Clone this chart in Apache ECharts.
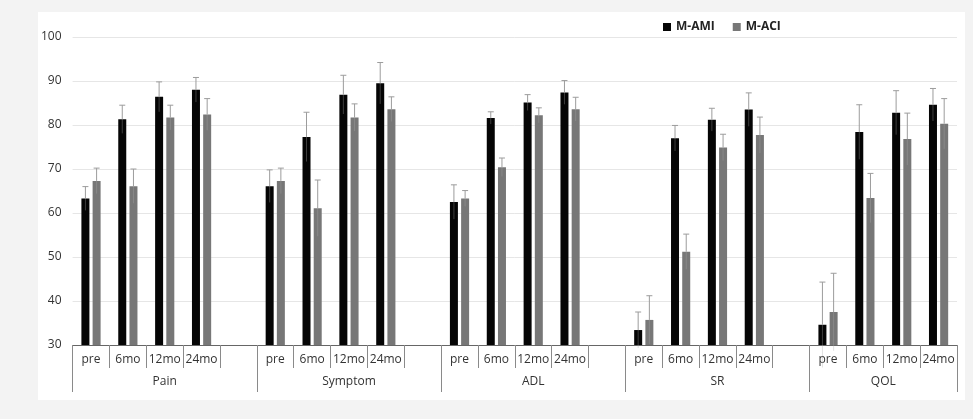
<!DOCTYPE html>
<html>
<head>
<meta charset="utf-8">
<script src="https://cdn.jsdelivr.net/npm/echarts@6/dist/echarts.min.js"></script>
<style>
  html, body { margin: 0; padding: 0; background: #f3f3f3; width: 973px; height: 419px; overflow: hidden; }
  #chart { position: absolute; left: 38px; top: 12px; width: 927px; height: 388px; background: #ffffff; }
</style>
</head>
<body>
<div id="chart"></div>
<script>
// ---- data ----
const timepoints = ['pre', '6mo', '12mo', '24mo'];
const groups = ['Pain', 'Symptom', 'ADL', 'SR', 'QOL'];
const seriesNames = ['M-AMI', 'M-ACI'];
const yTicks = [30, 40, 50, 60, 70, 80, 90, 100];

const amiMean = [63.3, 81.3, 86.4, 88.0,  66.1, 77.3, 86.9, 89.5,  62.5, 81.6, 85.1, 87.4,  33.4, 77.0, 81.2, 83.5,  34.6, 78.4, 82.8, 84.6];
const amiSD   = [ 2.7,  3.2,  3.4,  2.8,   3.7,  5.6,  4.4,  4.7,   3.9,  1.4,  1.8,  2.7,   4.1,  2.9,  2.6,  3.8,   9.7,  6.2,  5.0,  3.7];
const aciMean = [67.3, 66.1, 81.7, 82.4,  67.3, 61.1, 81.7, 83.6,  63.3, 70.4, 82.2, 83.6,  35.7, 51.2, 74.9, 77.7,  37.5, 63.4, 76.8, 80.3];
const aciSD   = [ 2.9,  3.9,  2.8,  3.6,   2.9,  6.4,  3.1,  2.8,   1.8,  2.1,  1.7,  2.7,   5.5,  4.0,  3.0,  4.1,   8.8,  5.6,  5.9,  5.7];

// ---- build slot layout: 4 timepoints + 1 blank slot per group (no blank after last) ----
const cats = [];
const amiBars = [], aciBars = [], amiErr = [], aciErr = [];
const groupBounds = [0];
groups.forEach((g, gi) => {
  timepoints.forEach((t, ti) => {
    const k = gi * 4 + ti;
    const idx = cats.length;
    cats.push(t);
    amiBars.push(amiMean[k]);
    aciBars.push(aciMean[k]);
    amiErr.push([idx, amiMean[k], amiSD[k]]);
    aciErr.push([idx, aciMean[k], aciSD[k]]);
  });
  if (gi < groups.length - 1) {
    cats.push('');
    amiBars.push('-');
    aciBars.push('-');
  }
  groupBounds.push(cats.length);
});
const groupCenters = groups.map((g, i) => (groupBounds[i] + groupBounds[i + 1]) / 2);

const BAR_W = 8, BAR_GAP = 3.2;
function errRenderer(offset) {
  return function (params, api) {
    const x = api.value(0), v = api.value(1), e = api.value(2);
    const base = api.coord([x, v]);
    const top = api.coord([x, v + e]);
    const low = api.coord([x, v - e]);
    const cx = base[0] + offset;
    return {
      type: 'group',
      children: [
        { type: 'line', shape: { x1: cx, y1: base[1], x2: cx, y2: low[1] }, style: { stroke: 'rgba(170,170,170,0.35)', lineWidth: 1 } },
        { type: 'line', shape: { x1: cx, y1: top[1], x2: cx, y2: base[1] }, style: { stroke: '#9c9c9c', lineWidth: 1 } },
        { type: 'line', shape: { x1: cx - 3, y1: top[1], x2: cx + 3, y2: top[1] }, style: { stroke: '#9c9c9c', lineWidth: 1 } }
      ]
    };
  };
}

const chart = echarts.init(document.getElementById('chart'), null, { renderer: 'canvas' });
const FONT = '"Open Sans", "Liberation Sans", sans-serif';
chart.setOption({
  animation: false,
  textStyle: { fontFamily: FONT },
  legend: {
    data: seriesNames,
    left: 620, top: 4,
    icon: 'rect', itemWidth: 8, itemHeight: 8, itemGap: 18,
    textStyle: { color: '#222', fontSize: 12, fontWeight: 'bold', fontFamily: FONT }
  },
  grid: { left: 33, right: 8, top: 25, bottom: 55 },
  xAxis: [
    {
      type: 'category', data: cats, position: 'bottom',
      axisLine: { show: true, lineStyle: { color: '#666', width: 1 } },
      axisTick: { show: true, interval: 0, length: 23, lineStyle: { color: '#8a8a8a' } },
      axisLabel: { interval: 0, margin: 9, color: '#333', fontSize: 12, fontFamily: FONT },
      splitLine: { show: false }
    },
    {
      type: 'value', min: 0, max: cats.length, position: 'bottom',
      axisLine: { show: false },
      axisTick: { show: true, customValues: groupBounds, length: 47, lineStyle: { color: '#8a8a8a' } },
      axisLabel: {
        show: true, customValues: groupCenters, margin: 31, color: '#333', fontSize: 12, fontFamily: FONT,
        formatter: function (v) {
          const i = groupCenters.findIndex(c => Math.abs(c - v) < 1e-6);
          return i >= 0 ? groups[i] : '';
        }
      },
      splitLine: { show: false }
    }
  ],
  yAxis: {
    type: 'value', min: yTicks[0], max: yTicks[yTicks.length - 1], interval: 10,
    axisLine: { show: false }, axisTick: { show: false },
    axisLabel: { color: '#333', fontSize: 12, margin: 11, fontFamily: FONT },
    splitLine: { lineStyle: { color: '#e6e6e6', width: 1 } }
  },
  series: [
    { name: seriesNames[0], type: 'bar', data: amiBars, barWidth: BAR_W, barGap: (BAR_GAP / BAR_W * 100) + '%', itemStyle: { color: '#050505' } },
    { name: seriesNames[1], type: 'bar', data: aciBars, barWidth: BAR_W, itemStyle: { color: '#777777' } },
    { type: 'custom', data: amiErr, encode: { x: 0, y: 1 }, renderItem: errRenderer(-(BAR_W + BAR_GAP) / 2), z: 5, silent: true },
    { type: 'custom', data: aciErr, encode: { x: 0, y: 1 }, renderItem: errRenderer((BAR_W + BAR_GAP) / 2), z: 5, silent: true }
  ]
});
</script>
</body>
</html>
